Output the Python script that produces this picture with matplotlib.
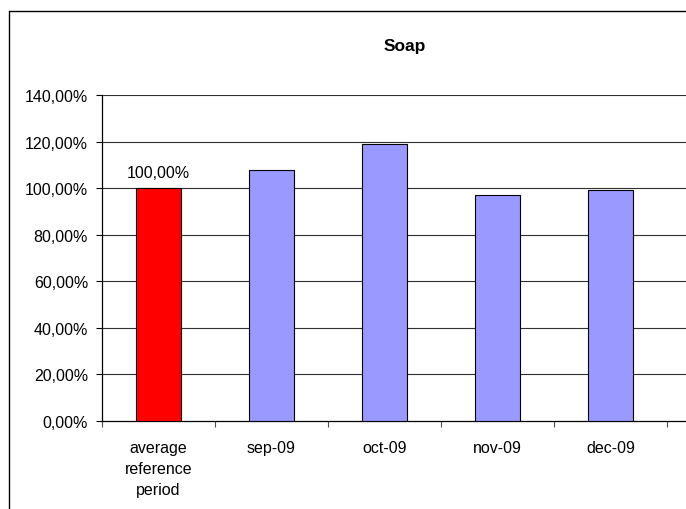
import matplotlib
matplotlib.use("Agg")
import matplotlib.pyplot as plt
from matplotlib.lines import Line2D
from matplotlib.ticker import FuncFormatter, FixedLocator
import numpy as np

plt.rcParams['font.family'] = ['Liberation Sans', 'DejaVu Sans']

# data
categories = ['average\nreference\nperiod', 'sep-09', 'oct-09', 'nov-09', 'dec-09']
values = [100.0, 107.8, 118.85, 97.1, 99.3]
bar_colors = ['#FF0000', '#9999FF', '#9999FF', '#9999FF', '#9999FF']
y_ticks = [0, 20, 40, 60, 80, 100, 120, 140]
title = 'Soap'

W, H = 686, 510
fig = plt.figure(figsize=(W / 100, H / 100), dpi=100)
fig.patch.set_facecolor('white')

# plot area (the chart is cut off on the right side)
left, top, bottom, cat_w = 102, 96, 422, 113
n_slots = 6
ax = fig.add_axes([left / W, 1 - bottom / H, n_slots * cat_w / W, (bottom - top) / H])

x = np.arange(len(categories))
ax.bar(x, values, width=0.4, color=bar_colors, edgecolor='black', linewidth=0.8, zorder=3)

ax.set_xlim(-0.5, n_slots - 0.5)
ax.set_ylim(0, 140)

# gridlines
for t in y_ticks[1:]:
    ax.axhline(t, color='#303030', linewidth=0.8, zorder=1)

ax.set_yticks(y_ticks)
ax.yaxis.set_major_formatter(FuncFormatter(lambda v, p: f"{v:.2f}%".replace('.', ',')))
ax.tick_params(axis='y', direction='out', length=4, width=0.8, pad=6, labelsize=11.5, colors='black')

# ticks between categories, labels at centres
ax.xaxis.set_major_locator(FixedLocator(np.arange(-0.5, n_slots, 1.0)))
ax.xaxis.set_minor_locator(FixedLocator(x))
ax.set_xticklabels([''] * len(ax.get_xticks()))
ax.set_xticklabels(categories, minor=True, linespacing=1.5, fontsize=11.5, va='top')
ax.tick_params(axis='x', which='major', direction='out', length=4, width=0.8, color='#505050')
ax.tick_params(axis='x', which='minor', length=0, pad=14)

for side in ['top', 'right']:
    ax.spines[side].set_visible(False)
ax.spines['left'].set_linewidth(0.9)
ax.spines['bottom'].set_linewidth(0.9)

# value label above the reference bar
ax.annotate(f"{values[0]:.2f}%".replace('.', ','), (x[0], values[0]),
            xytext=(0, 6), textcoords='offset points', ha='center', va='bottom', fontsize=11.5)

fig.text(405 / W, 1 - 47 / H, title, ha='center', va='center', fontsize=12.5, fontweight='bold')

# outer chart frame (left and top edges visible, right side cut off)
fig.add_artist(Line2D([9 / W, 9 / W], [0, 1 - 12 / H], color='black', linewidth=1.0, transform=fig.transFigure))
fig.add_artist(Line2D([9 / W, 1.0], [1 - 12 / H, 1 - 12 / H], color='black', linewidth=1.0,
                      solid_capstyle='butt', transform=fig.transFigure))

plt.savefig('out.png', dpi=100)
